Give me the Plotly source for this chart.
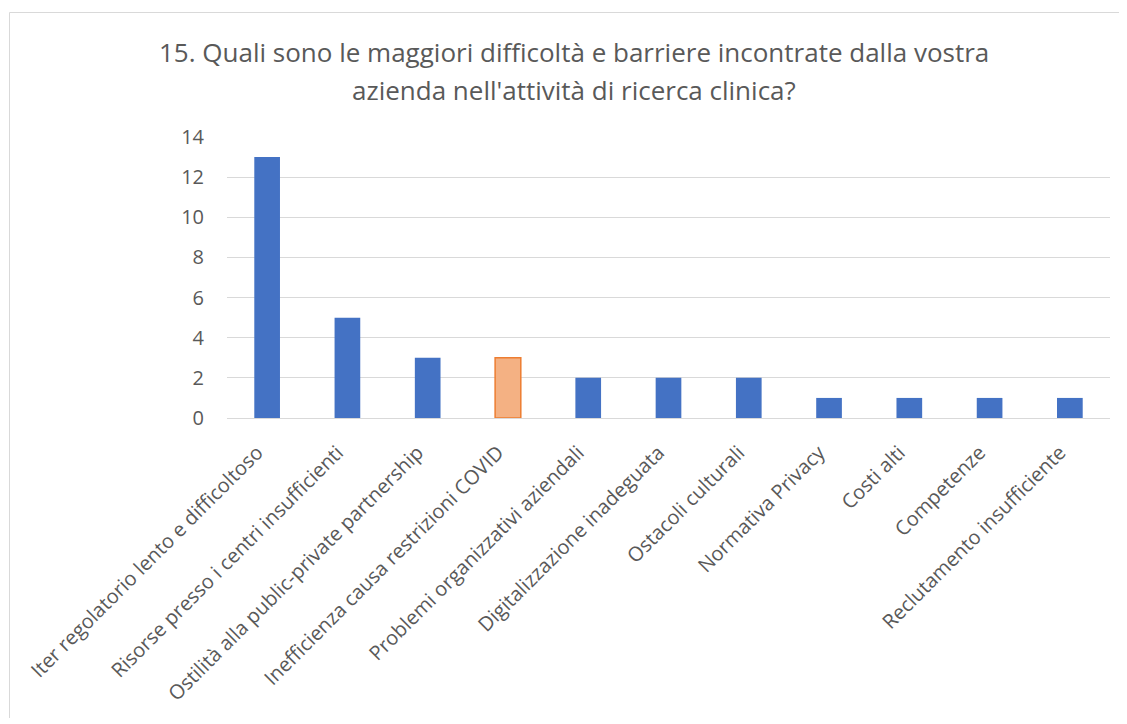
import plotly.graph_objects as go

categories = [
    "Iter regolatorio lento e difficoltoso",
    "Risorse presso i centri insufficienti",
    "Ostilità alla public-private partnership",
    "Inefficienza causa restrizioni COVID",
    "Problemi organizzativi aziendali",
    "Digitalizzazione inadeguata",
    "Ostacoli culturali",
    "Normativa Privacy",
    "Costi alti",
    "Competenze",
    "Reclutamento insufficiente",
]
values = [13, 5, 3, 3, 2, 2, 2, 1, 1, 1, 1]
highlight_index = 3
title_lines = [
    "15. Quali sono le maggiori difficoltà e barriere incontrate dalla vostra",
    "azienda nell'attività di ricerca clinica?",
]

blue = "#4472C4"
fill_colors = [("#F4B183" if i == highlight_index else blue) for i in range(len(values))]
line_colors = [("#ED7D31" if i == highlight_index else blue) for i in range(len(values))]
line_widths = [(1.5 if i == highlight_index else 0) for i in range(len(values))]

FONT = "Open Sans"
GRAY = "#595959"

fig = go.Figure(
    go.Bar(
        x=categories,
        y=values,
        marker=dict(color=fill_colors, line=dict(color=line_colors, width=line_widths)),
    )
)

OFF = 8  # page body margin
W, H = 1115, 710
ml, mt = 227 - OFF, 137 - OFF
pr, pb = 1110 - OFF, 418 - OFF
mr, mb = W - pr, H - pb
pw = W - ml - mr
ph = H - mt - mb

def px_x(px):
    return (px - OFF - ml) / pw

def px_y(py):
    return (H - mb - (py - OFF)) / ph

# chart frame: only left and top edges fall inside the picture
fx0, fx1 = px_x(9.5), px_x(1300)
fy0, fy1 = px_y(900), px_y(12.5)
fig.add_shape(
    type="path", xref="paper", yref="paper",
    path=f"M {fx0},{fy0} L {fx0},{fy1} L {fx1},{fy1}",
    line=dict(color="#D9D9D9", width=1), layer="below",
)

for line_text, yc in zip(title_lines, [52, 90]):
    fig.add_annotation(
        text=line_text, xref="paper", yref="paper",
        x=px_x(574), y=px_y(yc), xanchor="center", yanchor="middle",
        showarrow=False, font=dict(family=FONT, size=26, color=GRAY),
    )

fig.update_layout(
    width=W, height=H,
    margin=dict(l=ml, r=mr, t=mt, b=mb),
    paper_bgcolor="white", plot_bgcolor="white",
    bargap=0.68,
    showlegend=False,
    font=dict(family=FONT, color=GRAY),
)
fig.update_xaxes(
    tickangle=-45, tickfont=dict(family=FONT, size=20, color=GRAY),
    showgrid=False, showline=False, ticks="",
    ticklabelstandoff=18, ticklabelshift=-10,
)
fig.update_yaxes(
    range=[0, 14], dtick=2, tickfont=dict(family=FONT, size=20, color=GRAY),
    showgrid=True, gridcolor="#D9D9D9", gridwidth=1,
    zeroline=True, zerolinecolor="#D9D9D9", zerolinewidth=1,
    showline=False, ticks="", ticklabelstandoff=22,
)

fig.write_html("out.html")
